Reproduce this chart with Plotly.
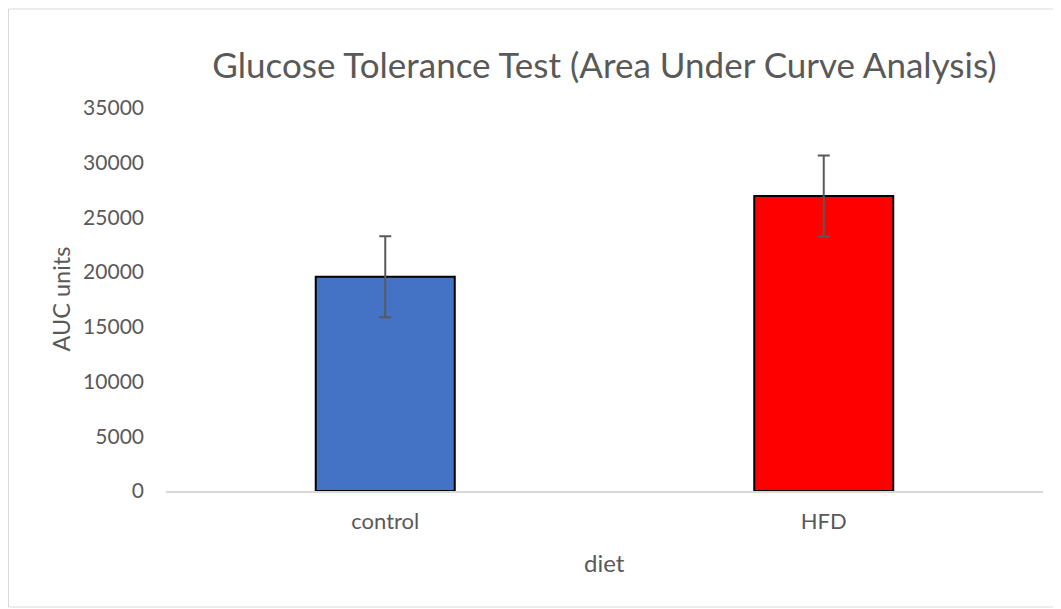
import plotly.graph_objects as go

categories = ["control", "HFD"]
auc_values = [19580, 26950]
auc_errors = [3700, 3720]
bar_colors = ["#4472C4", "#FF0000"]
y_tick_values = [0, 5000, 10000, 15000, 20000, 25000, 30000, 35000]

# The page body has an 8px margin, so figure coordinates = page coordinates - 8
OFF = 8
W, H = 1061 - OFF, 609 - OFF
L, R, T = 166 - OFF, 18, 108 - OFF
B = H - (491 - OFF)
pw = W - L - R
ph = H - T - B

def px_x(page_x):
    return (page_x - OFF - L) / pw

def px_y(page_y):
    return (H - B - (page_y - OFF)) / ph

FONT = "Lato"
GRAY = "#595959"

fig = go.Figure()
fig.add_trace(go.Bar(
    x=categories,
    y=auc_values,
    marker=dict(color=bar_colors, line=dict(color="black", width=2)),
    error_y=dict(type="data", array=auc_errors, visible=True,
                 color=GRAY, thickness=2, width=6),
    showlegend=False,
))

fig.update_layout(
    width=W, height=H, autosize=False,
    margin=dict(l=L, r=R, t=T, b=B),
    plot_bgcolor="white", paper_bgcolor="white",
    bargap=0.683,
    font=dict(family=FONT, color=GRAY),
    title=dict(text="Glucose Tolerance Test (Area Under Curve Analysis)",
               x=0.5, xref="paper", xanchor="center",
               y=1 - (66 - OFF) / H, yref="container", yanchor="middle",
               font=dict(family=FONT, size=35, color=GRAY)),
    xaxis=dict(showgrid=False, zeroline=False, showline=True,
               linecolor="#D9D9D9", linewidth=2,
               ticks="", ticklabelstandoff=10,
               tickfont=dict(family=FONT, size=22, color=GRAY)),
    yaxis=dict(range=[0, 35000], tickvals=y_tick_values, tickformat="d",
               showgrid=False, zeroline=False, showline=False,
               ticks="", ticklabelstandoff=21,
               tickfont=dict(family=FONT, size=21, color=GRAY)),
    annotations=[
        dict(text="AUC units", x=px_x(60), y=0.5, xref="paper", yref="paper",
             textangle=-90, showarrow=False, xanchor="center", yanchor="middle",
             font=dict(family=FONT, size=23.5, color=GRAY)),
        dict(text="diet", x=0.5, y=px_y(562), xref="paper", yref="paper",
             showarrow=False, xanchor="center", yanchor="middle",
             font=dict(family=FONT, size=24, color=GRAY)),
    ],
    shapes=[
        dict(type="rect", xref="paper", yref="paper",
             x0=px_x(8.5), x1=px_x(1075), y0=px_y(607), y1=px_y(9),
             line=dict(color="#D9D9D9", width=1), fillcolor="rgba(0,0,0,0)",
             layer="below"),
    ],
)

fig.write_html("out.html")
